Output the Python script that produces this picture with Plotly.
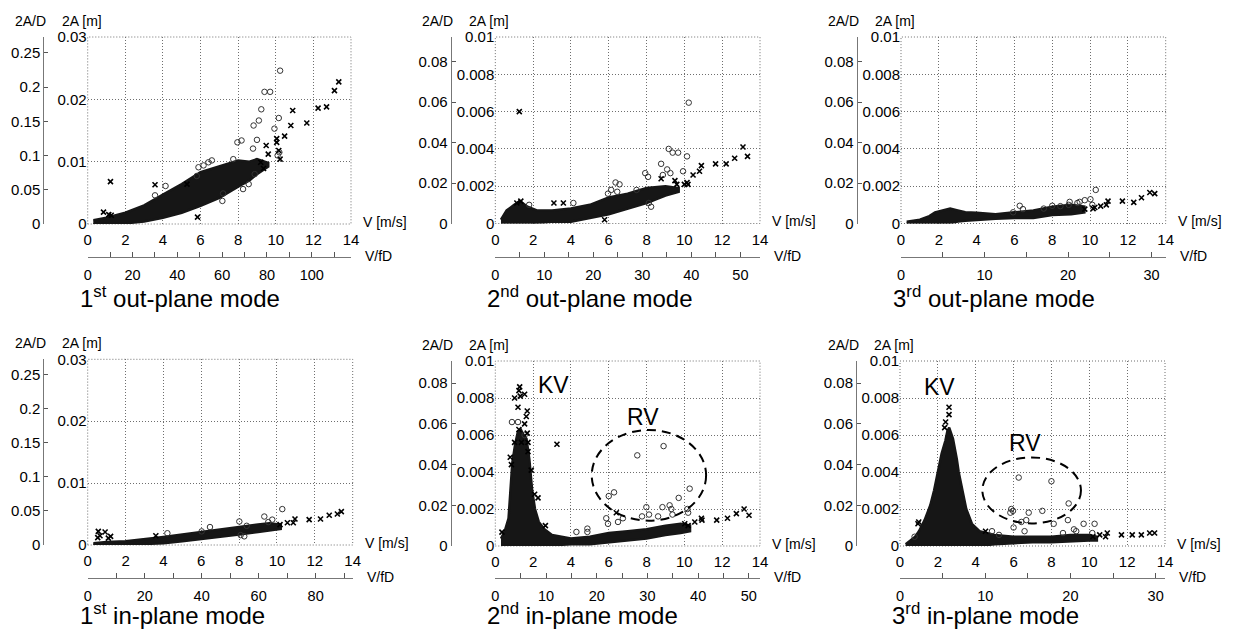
import plotly.graph_objects as go

# The page body has an 8 px default margin: the figure is sized and the
# pixel geometry shifted so that it lands on the 1237x630 window.
OFF = 8
W, H = 1237 - OFF, 630 - OFF

# ------------------------------------------------------------------
# DATA.  V in m/s, 2A in m.
# Dense point clouds are given as envelopes (V, upper 2A, lower 2A);
# isolated points are given individually (o = circles, x = crosses).
# ------------------------------------------------------------------
titles = ["1<sup>st</sup> out-plane mode", "2<sup>nd</sup> out-plane mode", "3<sup>rd</sup> out-plane mode",
          "1<sup>st</sup> in-plane mode", "2<sup>nd</sup> in-plane mode", "3<sup>rd</sup> in-plane mode"]

amp_max = [0.03, 0.01, 0.01, 0.03, 0.01, 0.01]            # 2A [m] axis top
ad_max = [0.273, 0.0922, 0.0922, 0.273, 0.0908, 0.0908]   # 2A/D axis top
vfd_max = [117.5, 54.0, 31.7, 93.0, 52.2, 31.1]          # V/fD axis end

amp_ticks = [[0, 0.01, 0.02, 0.03], [0, 0.002, 0.004, 0.006, 0.008, 0.01]]
amp_ticktext = [["0", "0.01", "0.02", "0.03"], ["0", "0.002", "0.004", "0.006", "0.008", "0.01"]]
ad_ticks = [[0, 0.05, 0.1, 0.15, 0.2, 0.25], [0, 0.02, 0.04, 0.06, 0.08]]
ad_ticktext = [["0", "0.05", "0.1", "0.15", "0.2", "0.25"], ["0", "0.02", "0.04", "0.06", "0.08"]]
v_ticks = [0, 2, 4, 6, 8, 10, 12, 14]

# --- 1st out-plane
band1_v = [0.3, 1, 2, 3, 4, 5, 6, 7, 8, 8.6, 9, 9.6]
band1_up = [0.0006, 0.0010, 0.0018, 0.0030, 0.0047, 0.0064, 0.0083, 0.0093, 0.0102, 0.0100, 0.0104, 0.0098]
band1_lo = [0, 0, 0.0001, 0.0004, 0.0010, 0.0018, 0.0029, 0.0042, 0.0060, 0.0070, 0.0080, 0.0092]
o1_v = [10.23, 9.40, 9.70, 9.23, 9.10, 8.82, 10.16, 9.93, 7.96, 8.18, 9.00, 8.79, 6.60, 6.42, 6.16, 5.89,
        5.80, 4.14, 3.58, 7.16, 7.20, 8.26, 8.56, 8.88, 10.10, 10.19, 7.74]
o1_a = [0.0246, 0.0212, 0.0212, 0.0184, 0.0166, 0.0158, 0.0170, 0.0153, 0.0131, 0.0134, 0.0135, 0.0121,
        0.0102, 0.0099, 0.0094, 0.0091, 0.0077, 0.0061, 0.0046, 0.0037, 0.0049, 0.0056, 0.0064, 0.0080,
        0.0110, 0.0115, 0.0104]
x1_v = [1.21, 3.58, 5.84, 0.84, 1.12, 1.25, 13.35, 13.12, 12.70, 12.25, 11.65, 10.90, 10.80, 10.47, 10.05,
        10.05, 10.16, 10.23, 9.49, 9.60, 9.35, 9.20, 5.28]
x1_a = [0.0068, 0.0063, 0.0011, 0.0019, 0.0015, 0.0014, 0.0228, 0.0214, 0.0188, 0.0186, 0.0162, 0.0182,
        0.0158, 0.0141, 0.0137, 0.0131, 0.0118, 0.0104, 0.0126, 0.0112, 0.0089, 0.0099, 0.0064]

# --- 2nd out-plane
band2_v = [0.3, 0.6, 1.0, 1.3, 1.7, 2.2, 3, 4, 5, 6, 7, 8, 9, 9.7]
band2_up = [0.0002, 0.0007, 0.0010, 0.0012, 0.0009, 0.0007, 0.0007, 0.0008, 0.0010, 0.0014, 0.0016, 0.0019, 0.0020, 0.0019]
band2_lo = [0, 0, 0, 0, 0, 0, 0.0001, 0.0001, 0.0003, 0.0005, 0.0008, 0.0011, 0.0015, 0.0017]
o2_v = [10.23, 9.17, 9.38, 9.67, 10.14, 8.77, 9.09, 9.26, 7.93, 8.08, 8.86, 9.93, 6.36, 6.57, 5.96, 6.13,
        6.45, 4.13, 7.47, 8.12, 8.24, 1.79]
o2_a = [0.00648, 0.0040, 0.0038, 0.0038, 0.0036, 0.0032, 0.0029, 0.0027, 0.0027, 0.0025, 0.0026, 0.0028,
        0.0022, 0.0021, 0.0016, 0.0018, 0.0017, 0.0011, 0.0018, 0.0011, 0.0009, 0.0010]
x2_v = [1.27, 13.10, 13.34, 12.66, 12.21, 11.65, 10.90, 10.80, 10.46, 10.14, 10.19, 10.00, 9.60, 9.50,
        8.77, 3.10, 3.60, 5.78, 1.14, 1.35]
x2_a = [0.0060, 0.0041, 0.0036, 0.0035, 0.0032, 0.0032, 0.0031, 0.0028, 0.0026, 0.0022, 0.0021, 0.0021,
        0.0021, 0.0023, 0.0024, 0.0011, 0.0011, 0.0002, 0.0011, 0.0012]

# --- 3rd out-plane
band3_v = [0.3, 1, 1.5, 1.8, 2.2, 2.6, 3.0, 3.4, 4, 5, 6, 7, 8, 9, 9.7]
band3_up = [0.0001, 0.0002, 0.0004, 0.0006, 0.0007, 0.0008, 0.0007, 0.0006, 0.00057, 0.0005, 0.0006, 0.0007,
            0.0009, 0.0010, 0.0009]
band3_lo = [0, 0, 0, 0, 0, 0, 0.0001, 0.00015, 0.0002, 0.00025, 0.0003, 0.0003, 0.00045, 0.0005, 0.0006]
o3_v = [10.30, 10.02, 9.72, 9.45, 9.33, 8.92, 8.87, 8.43, 8.00, 7.55, 6.28, 6.45, 5.93, 10.12]
o3_a = [0.0018, 0.0013, 0.00125, 0.00116, 0.0011, 0.00116, 0.0010, 0.00093, 0.00095, 0.0008, 0.00095,
        0.00077, 0.0006, 0.0010]
x3_v = [13.42, 13.16, 12.72, 12.31, 11.71, 10.95, 10.86, 10.56, 10.25, 10.16, 9.72]
x3_a = [0.0016, 0.00166, 0.00138, 0.00113, 0.0012, 0.0012, 0.0010, 0.00093, 0.00086, 0.0008, 0.00077]

# --- 1st in-plane
band4_v = [0.3, 1, 2, 3, 4, 5, 6, 7, 8, 9, 9.6, 10.2]
band4_up = [0.0003, 0.0005, 0.0006, 0.0009, 0.0013, 0.0017, 0.0021, 0.0025, 0.0030, 0.0033, 0.0035, 0.0033]
band4_lo = [0, 0, 0, 0.0001, 0.0003, 0.0006, 0.0009, 0.0013, 0.0017, 0.0021, 0.0024, 0.0026]
o4_v = [10.28, 9.33, 9.75, 9.54, 8.01, 8.40, 6.46, 6.02, 4.21, 8.08, 8.27]
o4_a = [0.0058, 0.0046, 0.0041, 0.0037, 0.0038, 0.0031, 0.0029, 0.0022, 0.0019, 0.0016, 0.0014]
x4_v = [0.56, 0.92, 0.65, 1.21, 0.53, 1.09, 13.40, 13.19, 12.76, 12.30, 11.70, 10.95, 10.86, 10.55, 10.16, 3.60]
x4_a = [0.0022, 0.0021, 0.0015, 0.0014, 0.0012, 0.0011, 0.0054, 0.0050, 0.0048, 0.0042, 0.0041, 0.0042,
        0.0036, 0.0036, 0.0033, 0.0015]

# --- 2nd in-plane
band5_v = [0.3, 0.5, 0.7, 0.8, 0.9, 1.05, 1.2, 1.35, 1.5, 1.65, 1.8, 1.95, 2.1, 2.3, 2.6, 3.0, 4.0, 5.0,
           6.0, 7.0, 8.0, 9.0, 9.8, 10.3]
band5_up = [0.0004, 0.0008, 0.0015, 0.0030, 0.0045, 0.0055, 0.0062, 0.0063, 0.0060, 0.0058, 0.0047, 0.0030,
            0.0020, 0.0013, 0.0009, 0.0006, 0.0004, 0.0005, 0.0007, 0.0008, 0.0009, 0.0011, 0.0012, 0.0011]
band5_lo = [0, 0, 0, 0, 0, 0, 0, 0, 0, 0, 0, 0, 0, 0, 0, 0, 0.0001, 0.0001, 0.0002, 0.0003, 0.0004, 0.0006,
            0.0007, 0.0008]
o5_v = [0.88, 1.20, 1.55, 4.29, 4.87, 4.87, 7.51, 8.90, 6.00, 6.28, 9.70, 10.28, 7.99, 8.13, 8.84, 9.22,
        9.31, 9.37, 8.61, 10.16, 10.20, 5.87, 5.96, 6.49, 6.75, 7.76]
o5_a = [0.0067, 0.0067, 0.0060, 0.00076, 0.00094, 0.00076, 0.0049, 0.0054, 0.0027, 0.0029, 0.0026, 0.0031,
        0.0021, 0.0017, 0.0021, 0.0022, 0.0020, 0.0017, 0.0016, 0.0020, 0.0018, 0.0015, 0.0012, 0.0013,
        0.0015, 0.0016]
x5_v = [1.29, 1.25, 1.55, 1.02, 1.32, 1.20, 1.69, 1.64, 1.25, 1.55, 1.69, 1.02, 1.38, 1.73, 0.79, 0.85,
        1.73, 1.90, 2.08, 2.26, 2.65, 3.26, 13.16, 13.42, 12.75, 12.28, 11.71, 10.90, 10.93, 10.55, 10.20,
        10.02, 6.40, 0.35]
x5_a = [0.0086, 0.0084, 0.0082, 0.0080, 0.0081, 0.0075, 0.0073, 0.0070, 0.0063, 0.0066, 0.0061, 0.0056,
        0.0056, 0.0056, 0.0048, 0.0044, 0.0051, 0.0041, 0.0028, 0.0026, 0.0011, 0.0055, 0.0020, 0.00166,
        0.00175, 0.0015, 0.0014, 0.0015, 0.0014, 0.0013, 0.0011, 0.0012, 0.0018, 0.00075]

# --- 3rd in-plane
band6_v = [0.3, 0.8, 1.0, 1.3, 1.6, 1.8, 2.0, 2.2, 2.4, 2.5, 2.6, 2.8, 3.0, 3.1, 3.3, 3.5, 3.8, 4.2, 5, 6,
           7, 8, 9, 10, 10.4]
band6_up = [0.0001, 0.0005, 0.0008, 0.0014, 0.0022, 0.0030, 0.0040, 0.0050, 0.0057, 0.0062, 0.0064, 0.0058,
            0.0047, 0.0040, 0.0030, 0.0020, 0.0012, 0.0008, 0.0006, 0.0005, 0.0005, 0.0005, 0.0006, 0.0006,
            0.0005]
band6_lo = [0, 0, 0, 0, 0, 0, 0, 0, 0, 0, 0, 0, 0, 0, 0, 0, 0, 0, 0.0001, 0.00015, 0.0002, 0.0002, 0.00025,
            0.0003, 0.0003]
o6_v = [0.77, 6.27, 8.00, 8.91, 5.88, 5.97, 5.83, 6.80, 7.52, 6.00, 6.41, 6.67, 8.12, 8.87, 9.70, 10.28,
        9.19, 9.31, 4.86, 5.23, 6.58, 10.16, 8.61]
o6_a = [0.0005, 0.0037, 0.0035, 0.0023, 0.0020, 0.0019, 0.0018, 0.0018, 0.0019, 0.0010, 0.0013, 0.0014,
        0.0012, 0.0014, 0.0012, 0.0012, 0.0009, 0.0008, 0.0008, 0.0006, 0.0008, 0.0007, 0.0007]
x6_v = [2.59, 2.59, 2.41, 2.36, 0.99, 13.45, 13.19, 12.75, 12.27, 11.70, 10.95, 10.86, 10.55, 10.19, 4.52, 0.95]
x6_a = [0.0075, 0.0071, 0.0067, 0.0064, 0.0013, 0.0007, 0.0007, 0.0006, 0.0006, 0.0006, 0.0007, 0.0005,
        0.0006, 0.0005, 0.0008, 0.0012]

bands = [(band1_v, band1_up, band1_lo), (band2_v, band2_up, band2_lo), (band3_v, band3_up, band3_lo),
         (band4_v, band4_up, band4_lo), (band5_v, band5_up, band5_lo), (band6_v, band6_up, band6_lo)]
circles = [(o1_v, o1_a), (o2_v, o2_a), (o3_v, o3_a), (o4_v, o4_a), (o5_v, o5_a), (o6_v, o6_a)]
crosses = [(x1_v, x1_a), (x2_v, x2_a), (x3_v, x3_a), (x4_v, x4_a), (x5_v, x5_a), (x6_v, x6_a)]

# KV / RV labels and RV ellipses (panels 5 and 6), in V / 2A units
kv_pos = {5: (3.07, 0.0087), 6: (2.08, 0.0086)}
rv_pos = {5: (7.8, 0.0070), 6: (6.6, 0.00555)}
rv_ellipse = {5: (5.1, 11.15, 0.00137, 0.00627), 6: (4.35, 9.56, 0.00122, 0.00479)}

# ------------------------------------------------------------------
# LAYOUT GEOMETRY (window pixels)
# ------------------------------------------------------------------
geo = [
    dict(xl=87.7, xr=351.0, yt=37.0, yb=224.0, sy=43.3, sx=256.7, ty=297),
    dict(xl=495.3, xr=760.0, yt=37.0, yb=223.5, sy=450.7, sx=256.7, ty=297),
    dict(xl=901.0, xr=1165.7, yt=37.0, yb=223.5, sy=856.7, sx=256.7, ty=297),
    dict(xl=87.7, xr=352.7, yt=359.3, yb=545.0, sy=43.3, sx=577.7, ty=614),
    dict(xl=495.3, xr=760.0, yt=361.0, yb=546.0, sy=450.7, sx=577.7, ty=614),
    dict(xl=900.0, xr=1165.0, yt=361.0, yb=546.0, sy=856.0, sx=577.7, ty=614),
]
vfd_major = [20, 10, 10, 20, 10, 10]
vfd_minor = [10, 5, 5, 10, 5, 5]


def px(x):
    return (x - OFF) / W


def py(y):
    return 1 - (y - OFF) / H


def aid(prefix, n):
    return prefix if n == 1 else f"{prefix}{n}"


FONT = "Liberation Sans, Arial, sans-serif"
TICKFONT = dict(family=FONT, size=15, color="black")
GRIDC = "#6e6e6e"
DOT = "1px,2px"

fig = go.Figure()
layout = dict(
    width=W, height=H, margin=dict(l=0, r=0, t=0, b=0, pad=0),
    paper_bgcolor="white", plot_bgcolor="white", showlegend=False,
    template="none", shapes=[], annotations=[],
)

for k in range(6):
    i = k + 1
    g = geo[k]
    xa, ya = aid("x", i), aid("y", i)
    xs, ys = f"x{i + 6}", f"y{i + 6}"
    kx = aid("xaxis", i)
    ky = aid("yaxis", i)
    col = k % 3
    s = 0 if col == 0 else 1

    # dense cloud (envelope)
    bv, bu, bl = bands[k]
    fig.add_trace(go.Scatter(
        x=list(bv) + list(bv)[::-1], y=list(bu) + list(bl)[::-1],
        xaxis=xa, yaxis=ya, mode="lines", fill="toself",
        fillcolor="#161616", line=dict(color="#161616", width=2.5), hoverinfo="skip"))
    # isolated circles
    cv, ca = circles[k]
    fig.add_trace(go.Scatter(
        x=cv, y=ca, xaxis=xa, yaxis=ya, mode="markers",
        marker=dict(symbol="circle-open", size=5.5, color="#333333", line=dict(width=1))))
    # isolated crosses
    xv, xa_ = crosses[k]
    fig.add_trace(go.Scatter(
        x=xv, y=xa_, xaxis=xa, yaxis=ya, mode="markers",
        marker=dict(symbol="x-thin", size=5, color="black", line=dict(width=1.6, color="black"))))
    # empty traces to attach the secondary scales
    fig.add_trace(go.Scatter(x=[], y=[], xaxis=xa, yaxis=ys, hoverinfo="skip"))
    fig.add_trace(go.Scatter(x=[], y=[], xaxis=xs, yaxis=ya, hoverinfo="skip"))

    layout[kx] = dict(
        domain=[px(g["xl"]), px(g["xr"])], range=[0, 14], anchor=ya,
        tickmode="array", tickvals=v_ticks, ticktext=[str(v) for v in v_ticks],
        ticks="", showline=False, zeroline=False, showgrid=True,
        gridcolor=GRIDC, griddash=DOT, gridwidth=1, tickfont=TICKFONT,
        ticklabelstandoff=5, automargin=False, fixedrange=True)
    layout[ky] = dict(
        domain=[py(g["yb"]), py(g["yt"])], range=[0, amp_max[k]], anchor=xa,
        tickmode="array", tickvals=amp_ticks[s], ticktext=amp_ticktext[s],
        ticks="", showline=False, zeroline=False, showgrid=True,
        gridcolor=GRIDC, griddash=DOT, gridwidth=1, tickfont=TICKFONT,
        automargin=False, fixedrange=True)
    layout[f"yaxis{i + 6}"] = dict(
        overlaying=ya, anchor="free", position=px(g["sy"]), side="left",
        range=[0, ad_max[k]], tickmode="array", tickvals=ad_ticks[s], ticktext=ad_ticktext[s],
        ticks="inside", ticklen=4, tickcolor="#555", showline=True, linecolor="#777", linewidth=1,
        showgrid=False, zeroline=False, tickfont=TICKFONT, automargin=False, fixedrange=True)
    layout[f"xaxis{i + 6}"] = dict(
        overlaying=xa, anchor="free", position=py(g["sx"]), side="bottom",
        range=[0, vfd_max[k]], tickmode="linear", tick0=0, dtick=vfd_major[k],
        ticks="inside", ticklen=5, tickcolor="#555", showline=True, linecolor="#777", linewidth=1,
        minor=dict(dtick=vfd_minor[k], tick0=0, ticks="inside", ticklen=5, tickcolor="#555", showgrid=False),
        showgrid=False, zeroline=False, tickfont=dict(family=FONT, size=14.5, color="black"),
        ticklabelstandoff=5, automargin=False, fixedrange=True)

    # dotted frame
    layout["shapes"].append(dict(
        type="rect", xref=f"{xa} domain", yref=f"{ya} domain", x0=0, x1=1, y0=0, y1=1,
        line=dict(color=GRIDC, width=1, dash=DOT), layer="below"))

    # axis labels
    lab = dict(family=FONT, size=14, color="black")
    A = layout["annotations"]
    A.append(dict(text="2A/D", x=px(g["sy"] - 13), y=py(g["yt"] - 16), xref="paper", yref="paper",
                  showarrow=False, xanchor="center", yanchor="middle", font=lab))
    A.append(dict(text="2A [m]", x=px(g["xl"] - 6), y=py(g["yt"] - 16), xref="paper", yref="paper",
                  showarrow=False, xanchor="center", yanchor="middle", font=lab))
    A.append(dict(text="V [m/s]", x=px(g["xr"] + 10), y=py(g["yb"] - 2), xref="paper", yref="paper",
                  showarrow=False, xanchor="left", yanchor="middle", font=lab))
    A.append(dict(text="V/fD", x=px(g["xr"] + 12), y=py(g["sx"] - 1), xref="paper", yref="paper",
                  showarrow=False, xanchor="left", yanchor="middle", font=lab))
    A.append(dict(text=titles[k], x=px(g["xl"] - 10), y=py(g["ty"]), xref="paper", yref="paper",
                  showarrow=False, xanchor="left", yanchor="middle",
                  font=dict(family=FONT, size=24, color="black")))

    if i in kv_pos:
        A.append(dict(text="KV", x=kv_pos[i][0], y=kv_pos[i][1], xref=xa, yref=ya, showarrow=False,
                      xanchor="center", yanchor="middle", font=dict(family=FONT, size=23, color="black")))
        A.append(dict(text="RV", x=rv_pos[i][0], y=rv_pos[i][1], xref=xa, yref=ya, showarrow=False,
                      xanchor="center", yanchor="middle", font=dict(family=FONT, size=23, color="black")))
        e = rv_ellipse[i]
        layout["shapes"].append(dict(
            type="circle", xref=xa, yref=ya, x0=e[0], x1=e[1], y0=e[2], y1=e[3],
            line=dict(color="black", width=2, dash="9px,6px")))

fig.update_layout(**layout)
fig.update_traces(showlegend=False)
fig.write_html("out.html")
